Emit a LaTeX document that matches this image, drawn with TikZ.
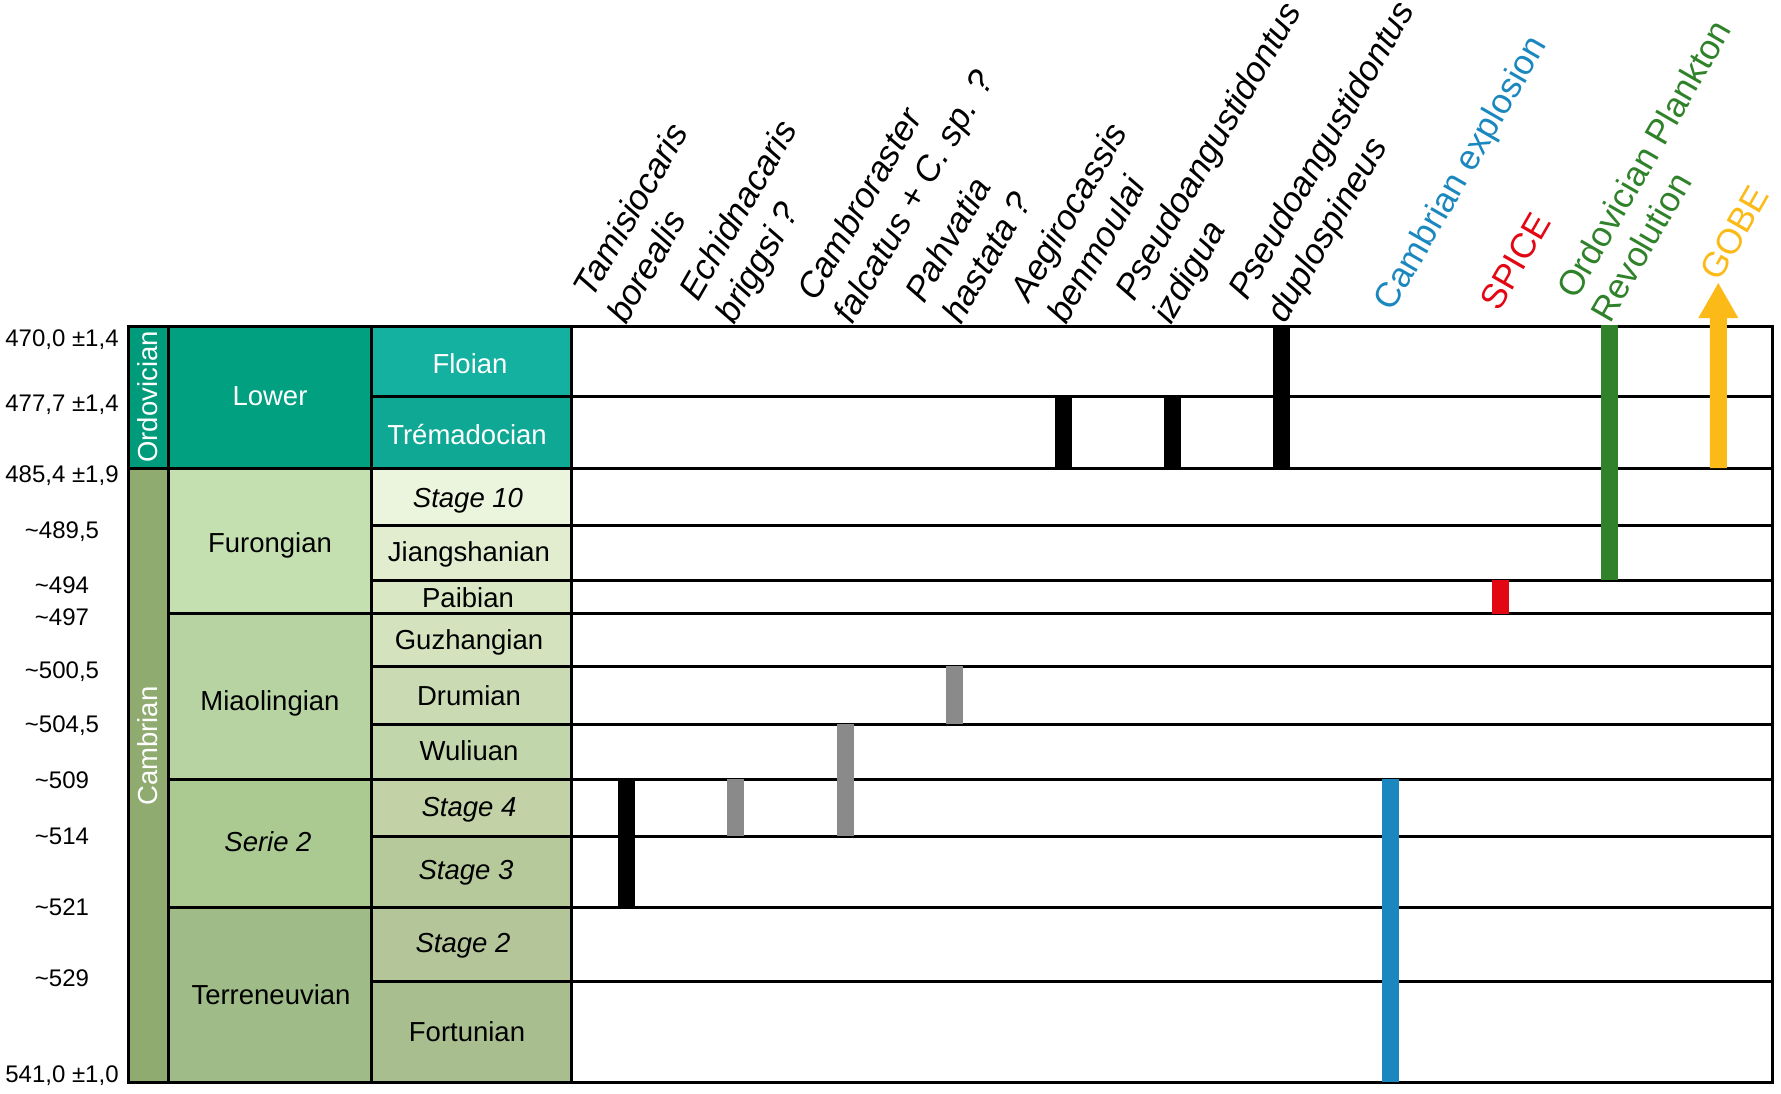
\documentclass[tikz,border=0pt]{standalone}
\usepackage{fontspec}
\setmainfont{Liberation Sans}
\definecolor{cOrdo}{HTML}{009B7A}
\definecolor{cLower}{HTML}{00A080}
\definecolor{cFloian}{HTML}{14B0A0}
\definecolor{cTrema}{HTML}{0EA894}
\definecolor{cCamb}{HTML}{8FAB6F}
\definecolor{cFuron}{HTML}{C4DFB0}
\definecolor{cStTen}{HTML}{EBF4DC}
\definecolor{cJiang}{HTML}{E2EDCF}
\definecolor{cPaib}{HTML}{D9E7C4}
\definecolor{cGuzh}{HTML}{D4E2BE}
\definecolor{cDrum}{HTML}{CADBB4}
\definecolor{cWuli}{HTML}{C1D6AA}
\definecolor{cMiao}{HTML}{B6D3A1}
\definecolor{cSerTwo}{HTML}{AACA92}
\definecolor{cStFour}{HTML}{C2D1A6}
\definecolor{cStThree}{HTML}{B5C99A}
\definecolor{cTerre}{HTML}{9FBB87}
\definecolor{cStTwo}{HTML}{B4C59A}
\definecolor{cFort}{HTML}{A9BE8E}
\definecolor{cGray}{HTML}{8A8A8A}
\definecolor{cBlue}{HTML}{1B87BF}
\definecolor{cRed}{HTML}{E30613}
\definecolor{cGreen}{HTML}{2F8229}
\definecolor{cYellow}{HTML}{FBBA18}
\begin{document}
\begin{tikzpicture}[x=1pt,y=-1pt,
  taxon/.style={font=\fontsize{35}{42}\selectfont\itshape, rotate=60, anchor=base west, inner sep=0pt},
  event/.style={font=\fontsize{35}{42}\selectfont, rotate=60, anchor=base west, inner sep=0pt},
  cell/.style={font=\fontsize{27.5}{33}\selectfont, inner sep=0pt},
  icell/.style={font=\fontsize{27.5}{33}\selectfont\itshape, inner sep=0pt},
  age/.style={font=\fontsize{24}{29}\selectfont, inner sep=0pt},
  gridline/.style={line width=3pt, black}]
\useasboundingbox (0,0) rectangle (1781,1093);
% ---- cell fills
\fill[cOrdo] (128,326) rectangle (168,468);
\fill[cCamb] (128,468) rectangle (168,1082);
\fill[cLower] (168,326) rectangle (371,468);
\fill[cFuron] (168,468) rectangle (371,613.5);
\fill[cMiao] (168,613.5) rectangle (371,779);
\fill[cSerTwo] (168,779) rectangle (371,907);
\fill[cTerre] (168,907) rectangle (371,1082);
\fill[cFloian] (371,326) rectangle (571,396);
\fill[cTrema] (371,396) rectangle (571,468);
\fill[cStTen] (371,468) rectangle (571,525);
\fill[cJiang] (371,525) rectangle (571,580);
\fill[cPaib] (371,580) rectangle (571,613.5);
\fill[cGuzh] (371,613.5) rectangle (571,666);
\fill[cDrum] (371,666) rectangle (571,724);
\fill[cWuli] (371,724) rectangle (571,779);
\fill[cStFour] (371,779) rectangle (571,836);
\fill[cStThree] (371,836) rectangle (571,907);
\fill[cStTwo] (371,907) rectangle (571,981);
\fill[cFort] (371,981) rectangle (571,1082);
% ---- grid lines
\foreach \r in {396,468,525,580,613.5,666,724,779,836,907,981}
  \draw[gridline] (371,\r) -- (1772,\r);
\foreach \r in {468,613.5,779,907}
  \draw[gridline] (168,\r) -- (371,\r);
\draw[gridline] (128,468) -- (168,468);
\foreach \c in {168,371,571}
  \draw[gridline] (\c,326) -- (\c,1082);
\draw[gridline] (128,326) rectangle (1772,1082);
% ---- bars
\fill[black] (618.2,779) rectangle (635.2,907);
\fill[cGray] (727.4,779) rectangle (744.4,836);
\fill[cGray] (836.5,724) rectangle (853.5,836);
\fill[cGray] (945.7,666) rectangle (962.7,724);
\fill[black] (1054.8,396) rectangle (1071.8,468);
\fill[black] (1164,396) rectangle (1181,468);
\fill[black] (1273.2,324.5) rectangle (1290.2,468);
\fill[cBlue] (1382.3,779) rectangle (1399.3,1082);
\fill[cRed] (1491.5,580) rectangle (1508.5,613.5);
\fill[cGreen] (1600.6,324.5) rectangle (1617.6,580);
\fill[cYellow] (1709.8,468) -- (1709.8,318) -- (1698.3,318) -- (1718.3,283)
  -- (1738.3,318) -- (1726.8,318) -- (1726.8,468) -- cycle;
% ---- left ages
\node[age] (a0) at (62,340) {470,0 ±1,4};
\node[age] (a1) at (62,405) {477,7 ±1,4};
\node[age] (a2) at (62,476) {485,4 ±1,9};
\node[age] (a3) at (62,532) {\textasciitilde489,5};
\node[age] (a4) at (62,585) {\textasciitilde494};
\node[age] (a5) at (62,617) {\textasciitilde497};
\node[age] (a6) at (62,672) {\textasciitilde500,5};
\node[age] (a7) at (62,726) {\textasciitilde504,5};
\node[age] (a8) at (62,780) {\textasciitilde509};
\node[age] (a9) at (62,836) {\textasciitilde514};
\node[age] (a10) at (62,907) {\textasciitilde521};
\node[age] (a11) at (62,978) {\textasciitilde529};
\node[age] (a12) at (62,1076) {541,0 ±1,0};
% ---- periods
\node[cell, white, rotate=90] (pOrdo) at (148,397) {Ordovician};
\node[cell, white, rotate=90] (pCamb) at (148,746) {Cambrian};
% ---- series
\node[cell, white] (sLower) at (270,396) {Lower};
\node[cell] (sFuron) at (270,545) {Furongian};
\node[cell] (sMiao) at (270,703) {Miaolingian};
\node[icell] (sSer2) at (268,842) {Serie 2};
\node[cell] (sTerre) at (271,994.5) {Terreneuvian};
% ---- stages
\node[cell, white] (gFlo) at (470,364) {Floian};
\node[cell, white] (gTre) at (467,435) {Trémadocian};
\node[icell] (gS10) at (468,501) {Stage 10};
\node[cell] (gJia) at (469,554) {Jiangshanian};
\node[cell] (gPai) at (468,598) {Paibian};
\node[cell] (gGuz) at (469,642) {Guzhangian};
\node[cell] (gDru) at (469,696) {Drumian};
\node[cell] (gWul) at (469,751) {Wuliuan};
\node[icell] (gS4) at (469,810) {Stage 4};
\node[icell] (gS3) at (466,873) {Stage 3};
\node[icell] (gS2) at (463,946) {Stage 2};
\node[cell] (gFor) at (467,1032) {Fortunian};
% ---- taxon labels
\node[taxon] (t1a) at (592.7,299.7) {Tamisiocaris};
\node[taxon] (t1b) at (626,326) {borealis};
\node[taxon] (t2a) at (698,303) {Echidnacaris};
\node[taxon] (t2b) at (734.3,326) {briggsi ?};
\node[taxon] (t3a) at (816,303) {Cambroraster};
\node[taxon] (t3b) at (852.5,326) {falcatus + C. sp. ?};
\node[taxon] (t4a) at (924,305) {Pahvatia};
\node[taxon] (t4b) at (961,326) {hastata ?};
\node[taxon] (t5a) at (1029.3,304) {Aegirocassis};
\node[taxon] (t5b) at (1066,326) {benmoulai};
\node[taxon] (t6a) at (1134,303) {Pseudoangustidontus};
\node[taxon] (t6b) at (1171,326) {izdigua};
\node[taxon] (t7a) at (1247,302) {Pseudoangustidontus};
\node[taxon] (t7b) at (1285,325) {duplospineus};
% ---- event labels
\node[event, cBlue] (e1) at (1392.7,313) {Cambrian explosion};
\node[event, cRed] (e2) at (1499.3,313) {SPICE};
\node[event, cGreen] (e3a) at (1576,301) {Ordovician Plankton};
\node[event, cGreen] (e3b) at (1610,325) {Revolution};
\node[event, cYellow] (e4) at (1719.3,283) {GOBE};
\end{tikzpicture}
\end{document}
